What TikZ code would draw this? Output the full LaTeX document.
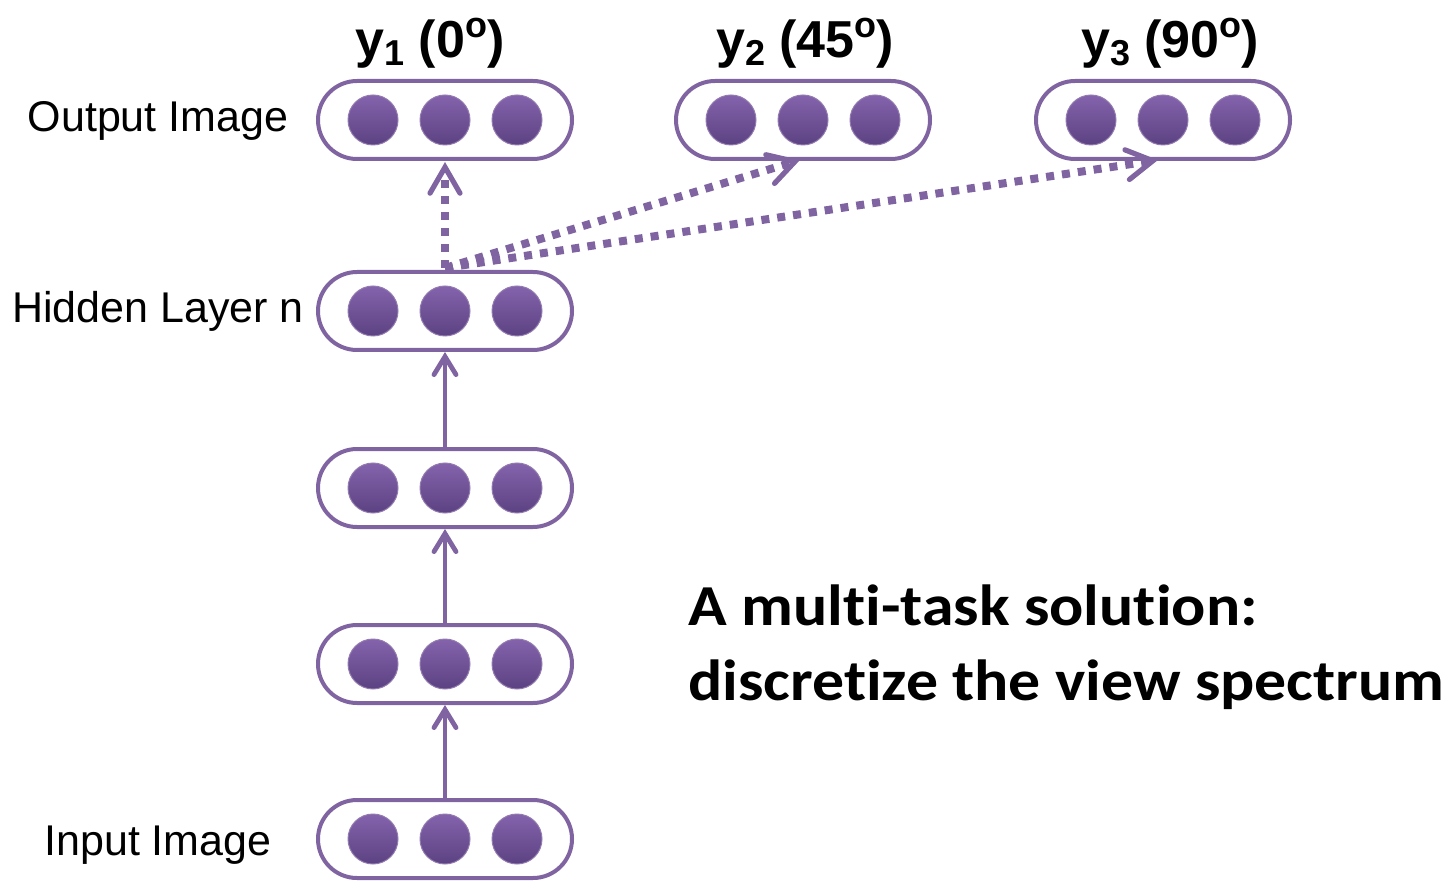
\documentclass[tikz,border=0pt]{standalone}
\usepackage{fontspec}
\setmainfont{Liberation Sans}
\newfontfamily\notefont[FakeStretch=1.1, Ligatures=NoCommon]{Carlito}
\usetikzlibrary{arrows.meta}
\definecolor{layerline}{HTML}{8064A2}
\definecolor{unittop}{HTML}{8463AC}
\definecolor{unitbot}{HTML}{5C4282}
\newcommand\lowidx[1]{\raisebox{-0.14em}{\fontsize{18}{18}\selectfont #1}}
\newcommand\dego{\raisebox{0.40em}{\fontsize{18}{18}\selectfont o}}
\tikzset{
  layerbox/.style={draw=layerline, line width=2pt, rectangle, rounded corners=19.5pt,
    minimum width=127pt, minimum height=39pt, inner sep=0pt},
  unit/.style={circle, minimum size=25pt, inner sep=0pt, draw=layerline!85!white,
    line width=0.5pt, top color=unittop, bottom color=unitbot},
  sidelabel/.style={font=\fontsize{21.5}{24}\selectfont, anchor=base, inner sep=0pt},
  outlabel/.style={font=\fontsize{26}{28}\selectfont\bfseries, anchor=base, inner sep=0pt},
  feed/.style={draw=layerline, line width=2pt,
    -{Straight Barb[length=9pt, width=11pt, line width=2.4pt, line cap=round]}},
  task/.style={draw=layerline, line width=4pt, dash pattern=on 4pt off 4pt,
    -{Straight Barb[length=13pt, width=15pt, line width=2.6pt, line cap=round]}}
}
\begin{document}
\begin{tikzpicture}[x=0.5pt, y=-0.5pt]
\useasboundingbox (0,0) rectangle (1454,881);

% layers with three units each
\foreach \name/\cx/\cy in {out1/445/120, out2/803/120, out3/1163/120,
                           hid/445/311, l3/445/488, l2/445/664, inp/445/839} {
  \node[layerbox] (\name) at (\cx,\cy) {};
  \foreach \i/\dx in {1/-72, 2/0, 3/72}
    \node[unit] (\name-\i) at (\cx+\dx,\cy) {};
}

% side labels
\node[sidelabel] (lout) at (158,132) {Output Image};
\node[sidelabel] (lhid) at (158,323) {Hidden Layer n};
\node[sidelabel] (linp) at (158,855) {Input Image};

% output labels
\node[outlabel] (t1) at (430,58) {y\lowidx{1} (0\dego)};
\node[outlabel] (t2) at (805,58) {y\lowidx{2} (45\dego)};
\node[outlabel] (t3) at (1170,58) {y\lowidx{3} (90\dego)};

% feed-forward connections
\draw[feed] (inp.north) -- (l2.south);
\draw[feed] (l2.north) -- (l3.south);
\draw[feed] (l3.north) -- (hid.south);

% task-specific heads
\coordinate (src) at ([yshift=1pt]hid.north);
\draw[task] (src) -- ([yshift=-0.5pt]out1.south);
\draw[task] (src) -- ([xshift=-1.5pt, yshift=0.5pt]out2.south);
\draw[task] (src) -- ([xshift=-2.5pt, yshift=0.5pt]out3.south);

% note
\node[font=\notefont\fontsize{29}{37.5}\selectfont\bfseries, align=left, anchor=base west,
  inner sep=0pt] (note) at (688,700) {A multi-task solution:\\discretize the view spectrum};
\end{tikzpicture}
\end{document}
